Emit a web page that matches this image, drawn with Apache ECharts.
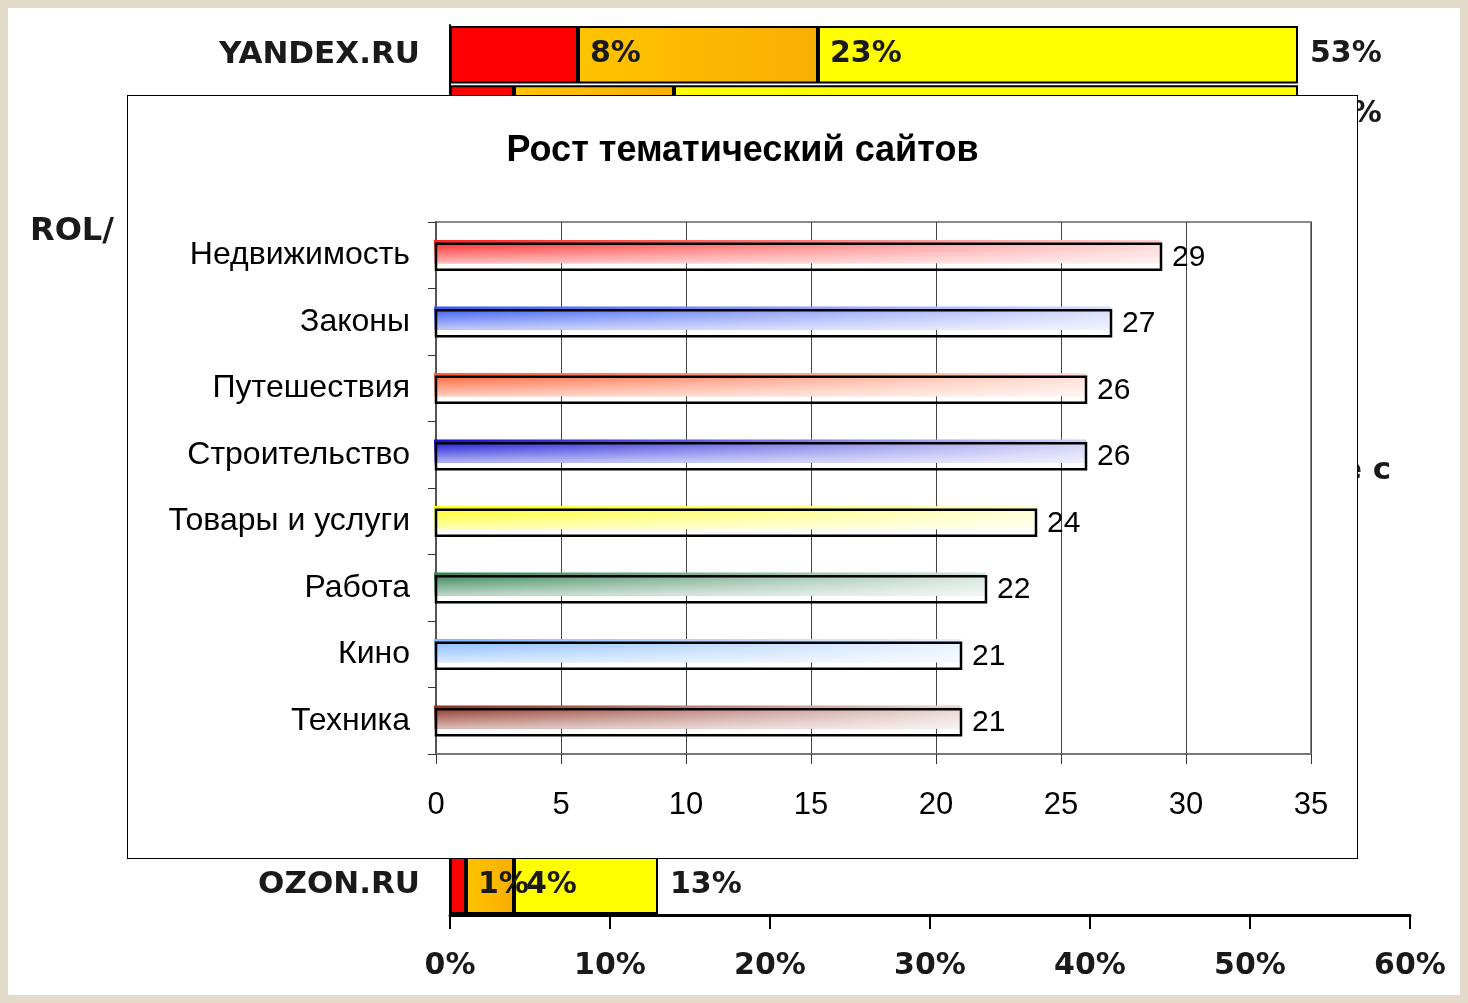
<!DOCTYPE html>
<html>
<head>
<meta charset="utf-8">
<title>Рост тематический сайтов</title>
<script src="https://cdn.jsdelivr.net/npm/echarts@6/dist/echarts.min.js"></script>
<style>
  html, body { margin: 0; padding: 0; width: 1468px; height: 1003px; background: #e4dac9; overflow: hidden; }
  #sheet { position: absolute; left: 8px; top: 8px; width: 1452px; height: 987px; background: #fff; }
  #share { position: absolute; left: 0; top: 0; width: 1468px; height: 1003px; }
  #topics { position: absolute; left: 127px; top: 95px; width: 1229px; height: 762px; background: #fff; border: 1px solid #000; }
</style>
</head>
<body>
<div id="sheet"></div>
<div id="share"></div>
<div id="topics"></div>
<script>
// background chart: share of sites, stacked parts (hidden rows are covered by the panel)
var sites = ['YANDEX.RU', '', '', '', '', '', '', '', '', '', '', '', '', '', 'OZON.RU'];
var partRed    = [8, 4, null, null, null, null, null, null, null, null, null, null, null, null, 1];
var partOrange = [15, 10, null, null, null, null, null, null, null, null, null, null, null, null, 3];
var partYellow = [30, 39, null, null, null, null, null, null, null, null, null, null, null, null, 9];
var shareTicks = [0, 10, 20, 30, 40, 50, 60];

// front chart: growth of topic sites
var topics = ['Недвижимость', 'Законы', 'Путешествия', 'Строительство', 'Товары и услуги', 'Работа', 'Кино', 'Техника'];
var growth = [29, 27, 26, 26, 24, 22, 21, 21];
var growthTicks = [0, 5, 10, 15, 20, 25, 30, 35];

var topicColors = ['#ff1c1c', '#2f52f2', '#ff5a2a', '#0808d6', '#ffff12', '#2c7e4e', '#7fb6ff', '#8a2818'];
var boldFont = 'DejaVu Sans';
var plainFont = '"Liberation Sans", Arial, sans-serif';

var parts = [partRed, partOrange, partYellow];

function cumulative(seriesIndex, dataIndex) {
    var s = 0;
    for (var k = 0; k <= seriesIndex; k++) {
        s += parts[k][dataIndex] || 0;
    }
    return s;
}

function partSeries(idx, color) {
    return {
        type: 'bar',
        stack: 'total',
        z: 4 - idx,
        barCategoryGap: '3%',
        data: parts[idx],
        itemStyle: { color: color, borderColor: '#000', borderWidth: 2 },
        label: {
            show: true,
            position: 'right',
            distance: 12,
            fontFamily: boldFont,
            fontWeight: 'bold',
            fontSize: 30,
            color: '#1a1a1a',
            formatter: function (p) {
                return cumulative(idx, p.dataIndex) + '%';
            }
        }
    };
}

var share = echarts.init(document.getElementById('share'));
share.setOption({
    animation: false,
    grid: { left: 450, right: 58, top: 25, bottom: 88 },
    xAxis: {
        type: 'value',
        min: shareTicks[0],
        max: shareTicks[shareTicks.length - 1],
        interval: 10,
        axisLine: { show: true, lineStyle: { color: '#000', width: 3 } },
        axisTick: { show: true, length: 14, lineStyle: { color: '#000', width: 2 } },
        splitLine: { show: false },
        axisLabel: {
            margin: 36,
            fontFamily: boldFont,
            fontWeight: 'bold',
            fontSize: 30,
            color: '#1a1a1a',
            formatter: '{value}%'
        }
    },
    yAxis: {
        type: 'category',
        inverse: true,
        data: sites,
        axisLine: { show: true, lineStyle: { color: '#000', width: 2 } },
        axisTick: { show: false },
        axisLabel: {
            margin: 30,
            fontFamily: boldFont,
            fontWeight: 'bold',
            fontSize: 31,
            color: '#1a1a1a'
        }
    },
    graphic: [
        { type: 'text', left: 30, top: 216, style: { text: 'ROL/', font: 'bold 32px "DejaVu Sans"', fill: '#1a1a1a' } },
        { type: 'text', left: 1341, top: 455, style: { text: 'е с', font: 'bold 31px "DejaVu Sans"', fill: '#1a1a1a' } }
    ],
    series: [
        partSeries(0, '#ff0000'),
        partSeries(1, new echarts.graphic.LinearGradient(0, 0, 1, 0, [
            { offset: 0, color: '#ffc400' },
            { offset: 1, color: '#f7ae00' }
        ])),
        partSeries(2, '#ffff00')
    ]
});

var chart = echarts.init(document.getElementById('topics'));

function renderTopic(params, api) {
    var row = api.value(1);
    var val = api.value(0);
    var p0 = api.coord([0, row]);
    var p1 = api.coord([val, row]);
    var band = api.size([0, 1])[1];
    var w = p1[0] - p0[0];
    var fillH = band * 0.35;
    var fillY = p0[1] - band * 0.055 - fillH / 2;
    var boxH = band * 0.39;
    var boxY = p0[1] + band * 0.022 - boxH / 2;
    var color = topicColors[params.dataIndex];
    var pale = echarts.color.lerp(0.8, [color, '#ffffff']);
    return {
        type: 'group',
        children: [
            {
                type: 'rect',
                shape: { x: p0[0] - 2, y: fillY, width: w + 2, height: fillH },
                style: {
                    fill: new echarts.graphic.LinearGradient(0, 0, 1, 0, [
                        { offset: 0, color: color },
                        { offset: 1, color: pale }
                    ])
                }
            },
            {
                type: 'rect',
                shape: { x: p0[0] - 2, y: fillY, width: w + 2, height: fillH },
                style: {
                    fill: new echarts.graphic.LinearGradient(0, 0, 0, 1, [
                        { offset: 0, color: 'rgba(255,255,255,0)' },
                        { offset: 1, color: 'rgba(255,255,255,0.7)' }
                    ])
                }
            },
            {
                type: 'rect',
                shape: { x: p0[0], y: boxY, width: w, height: boxH },
                style: { fill: 'none', stroke: '#000', lineWidth: 2.5 }
            },
            {
                type: 'text',
                x: p1[0] + 11,
                y: p0[1] + 2,
                style: {
                    text: String(val),
                    font: '30px "Liberation Sans", Arial, sans-serif',
                    fill: '#000',
                    verticalAlign: 'middle'
                }
            }
        ]
    };
}

option = {
    animation: false,
    title: {
        text: 'Рост тематический сайтов',
        left: 'center',
        top: 32,
        textStyle: { fontFamily: plainFont, fontWeight: 'bold', fontSize: 36, color: '#000' }
    },
    grid: {
        left: 308, right: 46, top: 126, bottom: 104,
        show: true, borderColor: '#8a8a8a', borderWidth: 2
    },
    xAxis: {
        type: 'value',
        min: growthTicks[0],
        max: growthTicks[growthTicks.length - 1],
        interval: 5,
        axisLine: { show: true, lineStyle: { color: '#777', width: 2 } },
        axisTick: { show: true, length: 10, lineStyle: { color: '#333' } },
        splitLine: { show: true, lineStyle: { color: '#444', width: 1 } },
        axisLabel: { margin: 36, fontFamily: plainFont, fontSize: 31, color: '#000' }
    },
    yAxis: {
        type: 'category',
        inverse: true,
        data: topics,
        axisLine: { show: true, lineStyle: { color: '#555', width: 2 } },
        axisTick: { show: true, length: 8, lineStyle: { color: '#333' } },
        splitLine: { show: false },
        axisLabel: { margin: 26, padding: [7, 0, 0, 0], fontFamily: plainFont, fontSize: 32, color: '#000' }
    },
    series: [{
        type: 'custom',
        renderItem: renderTopic,
        encode: { x: 0, y: 1 },
        data: growth.map(function (v, i) { return [v, i]; })
    }]
};

chart.setOption(option);
</script>
</body>
</html>
